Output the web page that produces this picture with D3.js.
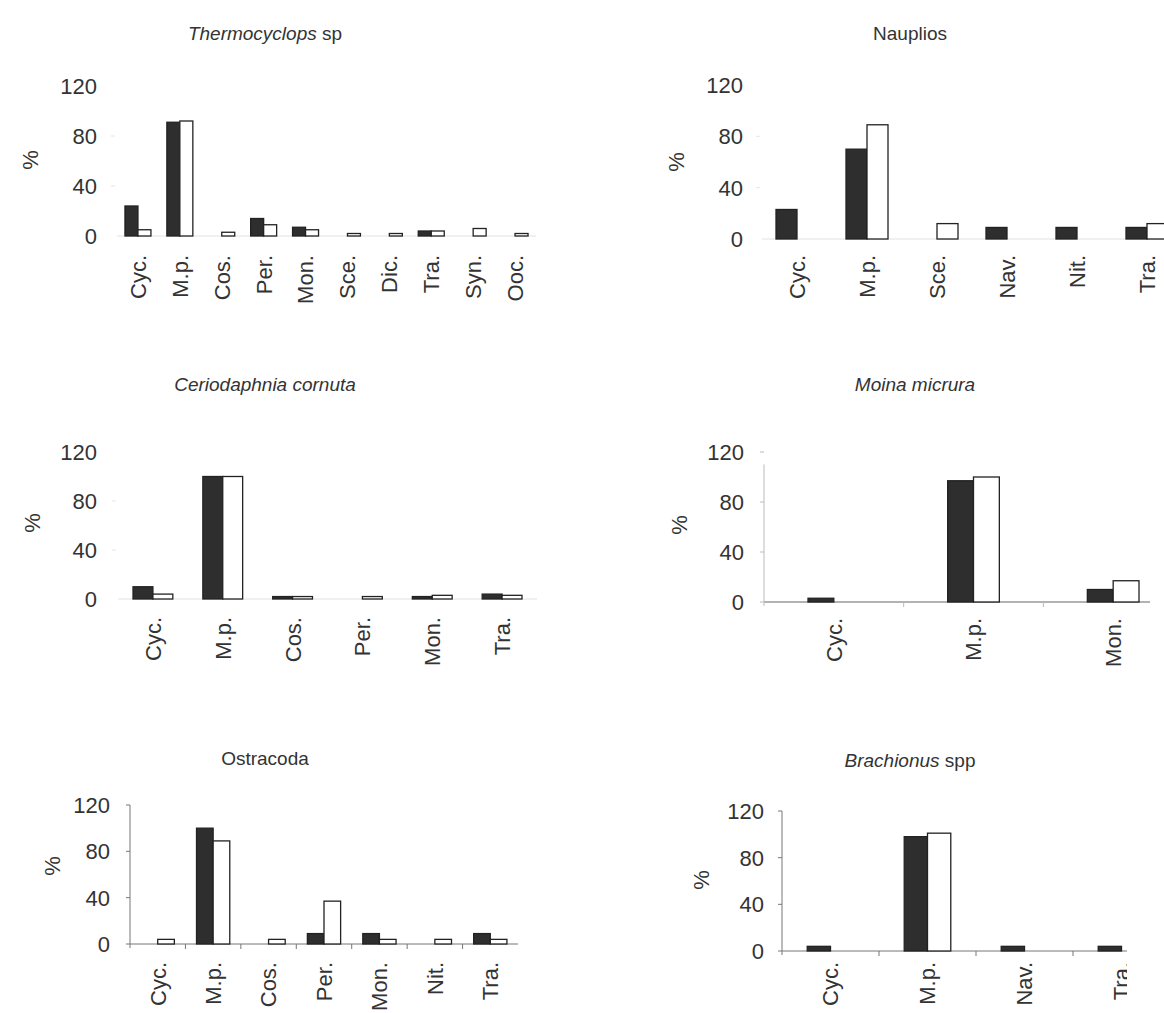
<!DOCTYPE html>
<html>
<head>
<meta charset="utf-8">
<title>Diet panels</title>
<script src="https://cdn.jsdelivr.net/npm/d3@7"></script>
<style>
  body { margin: 0; background: #fff; }
  text { font-family: "Liberation Sans", Arial, sans-serif; fill: #333; }
</style>
</head>
<body>
<script>
// ---- data (percent) ----
var yTicks = [0, 40, 80, 120];

var thermoCats  = ["Cyc.", "M.p.", "Cos.", "Per.", "Mon.", "Sce.", "Dic.", "Tra.", "Syn.", "Ooc."];
var thermoDark  = [24, 91, 0, 14, 7, 0, 0, 4, 0, 0];
var thermoLight = [5, 92, 3, 9, 5, 2, 2, 4, 6, 2];

var naupCats  = ["Cyc.", "M.p.", "Sce.", "Nav.", "Nit.", "Tra."];
var naupDark  = [23, 70, 0, 9, 9, 9];
var naupLight = [0, 89, 12, 0, 0, 12];

var cerioCats  = ["Cyc.", "M.p.", "Cos.", "Per.", "Mon.", "Tra."];
var cerioDark  = [10, 100, 2, 0, 2, 4];
var cerioLight = [4, 100, 2, 2, 3, 3];

var moinaCats  = ["Cyc.", "M.p.", "Mon."];
var moinaDark  = [3, 97, 10];
var moinaLight = [0, 100, 17];

var ostraCats  = ["Cyc.", "M.p.", "Cos.", "Per.", "Mon.", "Nit.", "Tra."];
var ostraDark  = [0, 100, 0, 9, 9, 0, 9];
var ostraLight = [4, 89, 4, 37, 4, 4, 4];

var brachCats  = ["Cyc.", "M.p.", "Nav.", "Tra."];
var brachDark  = [4, 98, 4, 4];
var brachLight = [0, 101, 0, 0];

// titles: [text, italic]
var titles = [
  [["Thermocyclops", true], [" sp", false]],
  [["Nauplios", false]],
  [["Ceriodaphnia cornuta", true]],
  [["Moina micrura", true]],
  [["Ostracoda", false]],
  [["Brachionus", true], [" spp", false]]
];

// ---- layout (pixels) ----
var panels = [
  {cats: thermoCats, dark: thermoDark, light: thermoLight, title: titles[0],
   x0: 117, x1: 536, pad: 0.38, base: 236, top: 86, tickX: 97, pctX: 30, pctY: 160,
   titleX: 265, titleY: 40, labelY: 255, style: "faint"},
  {cats: naupCats, dark: naupDark, light: naupLight, title: titles[1],
   x0: 762, x1: 1182, pad: 0.4, base: 239, top: 85, tickX: 743, pctX: 676, pctY: 162,
   titleX: 910, titleY: 40, labelY: 255, style: "faint"},
  {cats: cerioCats, dark: cerioDark, light: cerioLight, title: titles[2],
   x0: 118, x1: 537, pad: 0.43, base: 599, top: 452, tickX: 97, pctX: 32, pctY: 523,
   titleX: 265, titleY: 391, labelY: 617, style: "faint"},
  {cats: moinaCats, dark: moinaDark, light: moinaLight, title: titles[3],
   x0: 764, x1: 1183, pad: 0.63, base: 602, top: 452, tickX: 744, pctX: 679, pctY: 525,
   titleX: 915, titleY: 391, labelY: 618, style: "moina"},
  {cats: ostraCats, dark: ostraDark, light: ostraLight, title: titles[4],
   x0: 130, x1: 518, pad: 0.4, base: 944, top: 805, tickX: 110, pctX: 52, pctY: 866,
   titleX: 265, titleY: 765, labelY: 962, style: "axis"},
  {cats: brachCats, dark: brachDark, light: brachLight, title: titles[5],
   x0: 782, x1: 1170, pad: 0.52, base: 951, top: 811, tickX: 764, pctX: 701, pctY: 880,
   titleX: 910, titleY: 767, labelY: 962, style: "axis", clip: 1127}
];

var width = 1164, height = 1013;

var svg = d3.select("body").append("svg")
    .attr("width", width)
    .attr("height", height);

svg.append("rect").attr("width", width).attr("height", height).attr("fill", "#fff");

panels.forEach(function(p, k) {
  var g = svg.append("g");
  if (p.clip) {
    svg.append("clipPath").attr("id", "clip" + k)
      .append("rect").attr("x", 0).attr("y", 0).attr("width", p.clip).attr("height", height);
    g.attr("clip-path", "url(#clip" + k + ")");
  }

  var x = d3.scaleBand().domain(p.cats).range([p.x0, p.x1])
      .paddingInner(p.pad).paddingOuter(p.pad / 2);
  var xs = d3.scaleBand().domain(["dark", "light"]).range([0, x.bandwidth()]);
  var y = d3.scaleLinear().domain([0, 120]).range([p.base, p.top]);

  // title
  var t = g.append("text")
    .attr("x", p.titleX).attr("y", p.titleY)
    .attr("text-anchor", "middle")
    .style("font-size", "19px");
  p.title.forEach(function(part) {
    t.append("tspan").text(part[0]).style("font-style", part[1] ? "italic" : "normal");
  });

  // y tick labels
  g.selectAll(".ytl").data(yTicks).enter().append("text")
    .attr("x", p.tickX).attr("y", function(d) { return y(d); })
    .attr("dy", "0.36em")
    .attr("text-anchor", "end")
    .style("font-size", "22px")
    .text(function(d) { return d; });

  // % label
  g.append("text")
    .attr("transform", "translate(" + p.pctX + "," + p.pctY + ") rotate(-90)")
    .attr("text-anchor", "middle")
    .attr("dy", "0.35em")
    .style("font-size", "22px")
    .text("%");

  // axes
  var axisCol = p.style === "axis" ? "#777" : (p.style === "moina" ? "#bbb" : "#e2e2e2");
  g.append("line")
    .attr("x1", p.x0).attr("x2", p.style === "moina" ? 1150 : p.x1)
    .attr("y1", y(0)).attr("y2", y(0))
    .attr("stroke", p.style === "moina" ? "#666" : axisCol).attr("stroke-width", 1);
  if (p.style !== "faint") {
    g.append("line")
      .attr("x1", p.x0).attr("x2", p.x0)
      .attr("y1", y(0) + 4).attr("y2", p.style === "moina" ? y(110) : y(120))
      .attr("stroke", axisCol).attr("stroke-width", 1);
    g.selectAll(".yt").data(yTicks).enter().append("line")
      .attr("x1", p.x0 - 4).attr("x2", p.x0)
      .attr("y1", function(d) { return y(d); }).attr("y2", function(d) { return y(d); })
      .attr("stroke", axisCol);
    g.selectAll(".xt").data(p.cats.slice(1)).enter().append("line")
      .attr("x1", function(d) { return x(d) - x.step() * p.pad / 2; })
      .attr("x2", function(d) { return x(d) - x.step() * p.pad / 2; })
      .attr("y1", y(0)).attr("y2", y(0) + 5)
      .attr("stroke", axisCol);
  } else {
    g.selectAll(".yt").data(yTicks.slice(1, 3)).enter().append("line")
      .attr("x1", p.x0 - 6).attr("x2", p.x0 - 2)
      .attr("y1", function(d) { return y(d); }).attr("y2", function(d) { return y(d); })
      .attr("stroke", "#e6e6e6");
  }

  // bars
  var rows = p.cats.map(function(c, i) {
    return {cat: c, vals: [{key: "dark", v: p.dark[i]}, {key: "light", v: p.light[i]}]};
  });
  var grp = g.selectAll(".grp").data(rows).enter().append("g")
    .attr("transform", function(d) { return "translate(" + x(d.cat) + ",0)"; });
  grp.selectAll("rect")
    .data(function(d) { return d.vals.filter(function(e) { return e.v > 0; }); })
    .enter().append("rect")
    .attr("x", function(d) { return xs(d.key); })
    .attr("width", xs.bandwidth())
    .attr("y", function(d) { return y(d.v); })
    .attr("height", function(d) { return y(0) - y(d.v); })
    .attr("fill", function(d) { return d.key === "dark" ? "#2e2e2e" : "#fff"; })
    .attr("stroke", "#222")
    .attr("stroke-width", 1.3);

  // category labels
  g.selectAll(".xl").data(p.cats).enter().append("text")
    .attr("transform", function(d) {
      return "translate(" + (x(d) + x.bandwidth() / 2) + "," + p.labelY + ") rotate(-90)";
    })
    .attr("text-anchor", "end")
    .attr("dy", "0.36em")
    .style("font-size", "22px")
    .text(function(d) { return d; });
});
</script>
</body>
</html>
